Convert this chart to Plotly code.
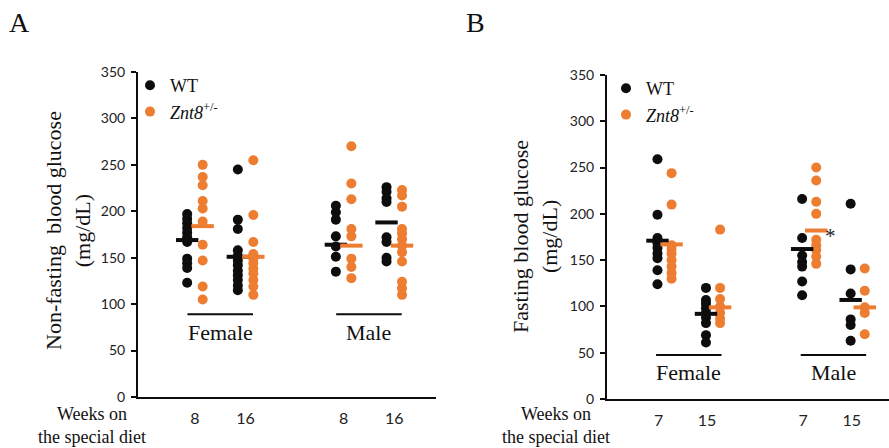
import plotly.graph_objects as go

# ---- categories and labels ----
SEXES = ["Female", "Male"]
WEEKS_A = ["8", "16"]
WEEKS_B = ["7", "15"]
GENOTYPES = ["WT", "<i>Znt8</i><sup>+/-</sup>"]
Y_TICKS = [0, 50, 100, 150, 200, 250, 300, 350]

# ---- A: non-fasting blood glucose (mg/dL) ----
a_f8_wt = [197, 192, 187, 182, 177, 172, 167, 149, 144, 139, 123]
a_f8_znt8 = [250, 237, 228, 211, 203, 189, 164, 147, 119, 105]
a_f16_wt = [245, 191, 181, 158, 152, 147, 142, 136, 131, 126, 120, 115]
a_f16_znt8 = [255, 196, 167, 154, 149, 144, 138, 133, 126, 119, 110]
a_m8_wt = [206, 199, 191, 173, 162, 151, 135]
a_m8_znt8 = [270, 230, 213, 181, 173, 149, 140, 128]
a_m16_wt = [226, 221, 214, 210, 172, 167, 150, 146]
a_m16_znt8 = [223, 217, 205, 181, 176, 170, 163, 156, 146, 124, 117, 110]
# group means, order: F-8, F-16, M-8, M-16
a_mean_wt = [169, 151, 164, 188]
a_mean_znt8 = [184, 151, 163, 163]

# ---- B: fasting blood glucose (mg/dL) ----
b_f7_wt = [259, 199, 174, 168, 163, 157, 152, 139, 124]
b_f7_znt8 = [244, 210, 166, 162, 157, 150, 143, 136, 130]
b_f15_wt = [120, 107, 103, 98, 93, 88, 82, 69, 61]
b_f15_znt8 = [183, 120, 108, 100, 93, 87, 82]
b_m7_wt = [216, 174, 155, 148, 143, 127, 112]
b_m7_znt8 = [250, 236, 213, 200, 172, 166, 161, 154, 146]
b_m15_wt = [211, 140, 114, 86, 80, 63]
b_m15_znt8 = [141, 117, 99, 93, 70]
# group means, order: F-7, F-15, M-7, M-15
b_mean_wt = [171, 92, 162, 107]
b_mean_znt8 = [167, 99, 182, 99]

# ---- styling ----
BLACK = "#0d0d0d"
ORANGE = "#ED7D31"
COLORS = [BLACK, ORANGE]
SERIF = "Liberation Serif, Times New Roman, serif"
SANS = "Lato, Carlito, Liberation Sans, sans-serif"
W, H = 889, 448


def px_x(p):
    return p / W


def px_y(p):
    return 1 - p / H


# panel geometry (axis units on a 0-10 x range)
PANELS = {
    "A": dict(sex_center=[2.76, 7.75], week_off=0.85, geno_off=0.26,
              line_half=1.1, line_y=89, label_y=69),
    "B": dict(sex_center=[2.90, 8.03], week_off=0.86, geno_off=0.25,
              line_half=1.16, line_y=47.5, label_y=29),
}


def xpos(panel, s, w, g):
    p = PANELS[panel]
    return p["sex_center"][s] + (2 * w - 1) * p["week_off"] + (2 * g - 1) * p["geno_off"]


groups_a = [
    [a_f8_wt, a_f16_wt, a_m8_wt, a_m16_wt],
    [a_f8_znt8, a_f16_znt8, a_m8_znt8, a_m16_znt8],
]
groups_b = [
    [b_f7_wt, b_f15_wt, b_m7_wt, b_m15_wt],
    [b_f7_znt8, b_f15_znt8, b_m7_znt8, b_m15_znt8],
]
means_a = [a_mean_wt, a_mean_znt8]
means_b = [b_mean_wt, b_mean_znt8]

fig = go.Figure()

for panel, groups, means, xa, ya, leg in [
    ("A", groups_a, means_a, "x", "y", "legend"),
    ("B", groups_b, means_b, "x2", "y2", "legend2"),
]:
    for g, name in enumerate(GENOTYPES):
        xs, ys = [], []
        for k, vals in enumerate(groups[g]):
            s, w = divmod(k, 2)
            xs += [xpos(panel, s, w, g)] * len(vals)
            ys += vals
        fig.add_trace(go.Scatter(
            x=xs, y=ys, mode="markers", name=name, xaxis=xa, yaxis=ya,
            legend=leg, cliponaxis=False,
            marker=dict(size=10, color=COLORS[g], line=dict(width=0)),
        ))
    for g in range(2):
        mx = [xpos(panel, k // 2, k % 2, g) for k in range(4)]
        fig.add_trace(go.Scatter(
            x=mx, y=means[g], mode="markers", showlegend=False,
            xaxis=xa, yaxis=ya, cliponaxis=False,
            marker=dict(symbol="line-ew", size=16,
                        line=dict(width=4, color=COLORS[g])),
        ))

# sex underlines and labels
shapes, annotations = [], []
for panel, xr, yr in [("A", "x", "y"), ("B", "x2", "y2")]:
    p = PANELS[panel]
    for s, sex in enumerate(SEXES):
        c = p["sex_center"][s]
        shapes.append(dict(type="line", xref=xr, yref=yr,
                           x0=c - p["line_half"], x1=c + p["line_half"],
                           y0=p["line_y"], y1=p["line_y"],
                           line=dict(color=BLACK, width=2)))
        annotations.append(dict(text=sex, xref=xr, yref=yr, x=c,
                                y=p["label_y"], showarrow=False,
                                xanchor="center", yanchor="middle",
                                font=dict(family=SERIF, size=22, color="#111")))

# significance mark next to the male 7-week Znt8 mean
annotations.append(dict(text="*", xref="x2", yref="y2",
                        x=xpos("B", 1, 0, 1) + 0.5, y=b_mean_znt8[2],
                        xanchor="center", yanchor="middle",
                        yshift=-5, showarrow=False,
                        font=dict(family=SERIF, size=21, color="#222")))

# panel letters
for letter, xp in [("A", 19), ("B", 475)]:
    annotations.append(dict(text=letter, xref="paper", yref="paper",
                            x=px_x(xp), y=px_y(22), showarrow=False,
                            xanchor="center", yanchor="middle",
                            font=dict(family=SERIF, size=28, color="#111")))

# y-axis titles
for text, xp, yp in [
    ("Non-fasting  blood glucose<br>(mg/dL)", 68, 231),
    ("Fasting blood glucose<br>(mg/dL)", 535, 237),
]:
    annotations.append(dict(text=text, xref="paper", yref="paper",
                            x=px_x(xp), y=px_y(yp), textangle=-90,
                            xanchor="center", yanchor="middle",
                            showarrow=False,
                            font=dict(family=SERIF, size=22, color="#111")))

# x-axis caption
for xp in [92, 556]:
    annotations.append(dict(text="Weeks on<br>the special diet",
                            xref="paper", yref="paper",
                            x=px_x(xp), y=px_y(425), showarrow=False,
                            xanchor="center", yanchor="middle",
                            font=dict(family=SERIF, size=18, color="#111")))

yaxis_style = dict(range=[0, 350], tickvals=Y_TICKS, showgrid=False,
                   zeroline=False, showline=True, linecolor=BLACK,
                   linewidth=2, ticks="outside", ticklen=5, tickwidth=1.5,
                   tickcolor=BLACK, ticklabelstandoff=3, automargin=False,
                   tickfont=dict(family=SANS, size=14, color="#222"))
xaxis_style = dict(range=[0, 10], showgrid=False, zeroline=False,
                   showline=True, linecolor=BLACK, linewidth=2, ticks="",
                   ticklabelstandoff=6, automargin=False,
                   tickfont=dict(family=SANS, size=16, color="#222"))

ticks_a = [xpos("A", s, w, 0) + PANELS["A"]["geno_off"] for s in range(2) for w in range(2)]
ticks_b = [xpos("B", s, w, 0) + PANELS["B"]["geno_off"] for s in range(2) for w in range(2)]

legend_style = dict(xanchor="left", yanchor="top", bgcolor="rgba(0,0,0,0)",
                    font=dict(family=SERIF, size=18, color="#111"),
                    itemclick=False, itemdoubleclick=False, tracegroupgap=0)

fig.update_layout(
    width=W, height=H, autosize=False,
    margin=dict(l=0, r=0, t=0, b=0),
    paper_bgcolor="white", plot_bgcolor="white",
    xaxis=dict(domain=[px_x(138), px_x(436)], anchor="y",
               tickvals=ticks_a, ticktext=WEEKS_A * 2, **xaxis_style),
    yaxis=dict(domain=[px_y(397), px_y(72)], anchor="x", **yaxis_style),
    xaxis2=dict(domain=[px_x(607), 1.0], anchor="y2",
                tickvals=ticks_b, ticktext=WEEKS_B * 2,
                ticklabelshift=-6, **xaxis_style),
    yaxis2=dict(domain=[px_y(399), px_y(75)], anchor="x2", **yaxis_style),
    legend=dict(x=px_x(130), y=px_y(67), **legend_style),
    legend2=dict(x=px_x(606), y=px_y(70), **legend_style),
    shapes=shapes,
    annotations=annotations,
    showlegend=True,
)

fig.write_html("out.html")
